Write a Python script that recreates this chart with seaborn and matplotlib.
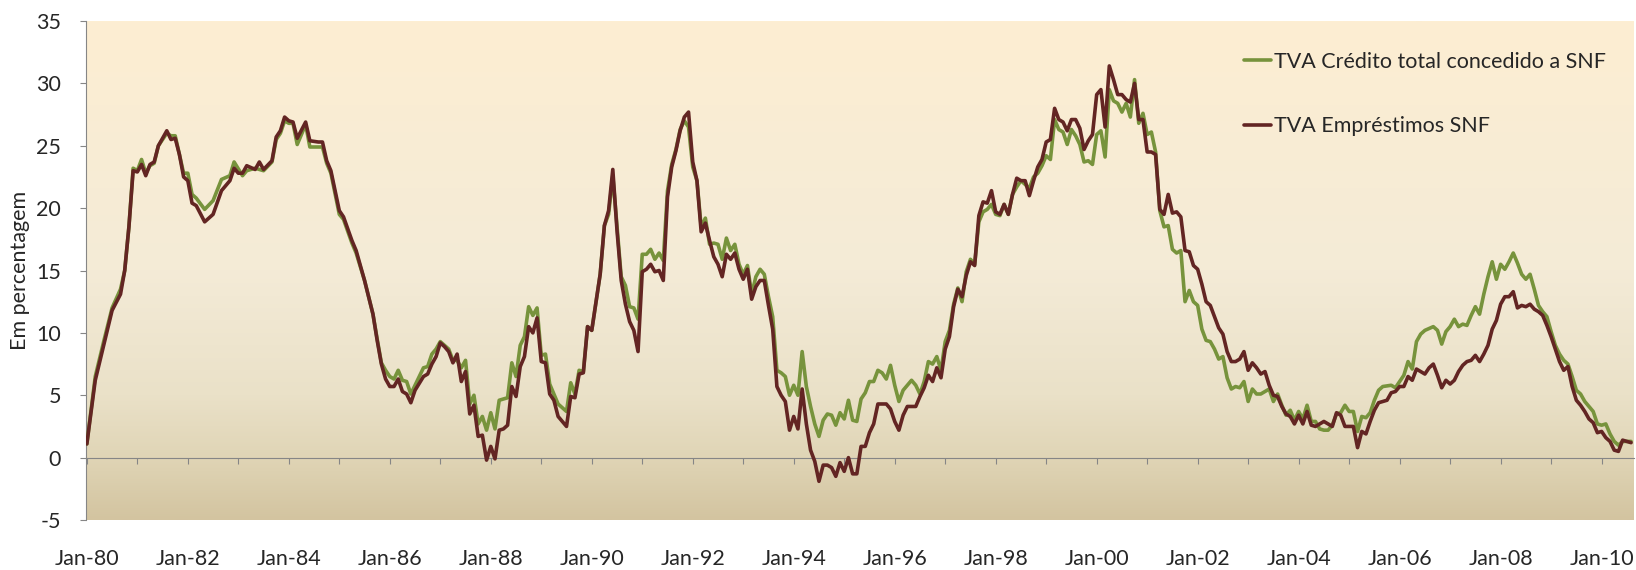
import numpy as np
import pandas as pd
import seaborn as sns
import matplotlib.pyplot as plt
from matplotlib.colors import LinearSegmentedColormap

# (meses desde Jan-80, valor em %)
credito_total = [
    (0, 1.1), (2, 6.5), (4, 9.3), (6, 12.0), (8, 13.5), (9, 15.0), (10, 18.5), (11, 23.2),
    (12, 23.0), (13, 23.9), (14, 22.8), (15, 23.4), (16, 23.6), (17, 25.0), (19, 26.0), (20, 25.8),
    (21, 25.8), (22, 24.3), (23, 22.8), (24, 22.8), (25, 21.1), (26, 20.8), (28, 19.9), (30, 20.6),
    (32, 22.3), (34, 22.6), (35, 23.7), (37, 22.6), (38, 23.0), (40, 23.2), (42, 23.0), (44, 23.7),
    (45, 25.5), (46, 26.0), (47, 27.0), (48, 26.8), (49, 26.8), (50, 25.1), (52, 26.7), (53, 24.9),
    (55, 24.9), (56, 24.9), (57, 23.6), (58, 22.8), (60, 19.5), (61, 19.1), (63, 17.2), (64, 16.4),
    (66, 14.2), (68, 11.5), (69, 9.5), (70, 7.6), (71, 7.0), (72, 6.5), (73, 6.3), (74, 7.0),
    (75, 6.2), (76, 6.1), (77, 5.1), (78, 5.8), (80, 7.2), (81, 7.3), (82, 8.3), (83, 8.7),
    (84, 9.3), (85, 9.0), (86, 8.7), (87, 7.8), (88, 7.8), (89, 7.2), (90, 7.8), (91, 4.3),
    (92, 5.0), (93, 2.7), (94, 3.3), (95, 2.2), (96, 3.6), (97, 2.3), (98, 4.6), (100, 4.8),
    (101, 7.6), (102, 6.5), (103, 9.0), (104, 9.7), (105, 12.1), (106, 11.4), (107, 12.0), (108, 8.2),
    (109, 8.3), (110, 5.9), (111, 5.1), (112, 4.3), (114, 3.7), (115, 6.0), (116, 5.1), (117, 7.0),
    (118, 6.9), (119, 10.5), (120, 10.2), (122, 14.7), (123, 18.6), (124, 19.5), (125, 22.6), (126, 18.5),
    (127, 14.5), (128, 13.8), (129, 12.1), (130, 12.0), (131, 11.1), (132, 16.3), (133, 16.3), (134, 16.7),
    (135, 15.9), (136, 16.4), (137, 15.8), (138, 21.4), (139, 23.5), (140, 24.7), (141, 26.3), (142, 27.0),
    (143, 26.5), (144, 23.3), (145, 22.2), (146, 18.5), (147, 19.2), (148, 17.1), (149, 17.2), (150, 17.1),
    (151, 15.9), (152, 17.6), (153, 16.6), (154, 17.1), (155, 15.5), (156, 14.7), (157, 15.4), (158, 13.1),
    (159, 14.5), (160, 15.1), (161, 14.7), (162, 12.9), (163, 11.3), (164, 7.0), (165, 6.8), (166, 6.5),
    (167, 5.0), (168, 5.8), (169, 5.0), (170, 8.5), (171, 5.7), (172, 4.1), (173, 2.7), (174, 1.7),
    (175, 3.0), (176, 3.5), (177, 3.4), (178, 2.6), (179, 3.6), (180, 3.1), (181, 4.6), (182, 3.0),
    (183, 2.9), (184, 4.7), (185, 5.2), (186, 6.1), (187, 6.1), (188, 7.0), (189, 6.8), (190, 6.3),
    (191, 7.4), (192, 5.8), (193, 4.5), (194, 5.4), (196, 6.2), (197, 5.8), (198, 5.1), (199, 6.1),
    (200, 7.7), (201, 7.5), (202, 8.1), (203, 7.0), (204, 9.3), (205, 10.2), (206, 12.3), (207, 13.6),
    (208, 12.5), (209, 14.9), (210, 15.9), (211, 15.5), (212, 18.9), (213, 19.7), (214, 19.9), (215, 20.3),
    (216, 19.5), (217, 19.4), (218, 20.3), (219, 19.5), (220, 21.1), (221, 21.7), (222, 22.2), (223, 21.9),
    (224, 21.6), (225, 22.5), (226, 22.8), (227, 23.4), (228, 24.2), (229, 23.9), (230, 27.1), (231, 26.3),
    (232, 26.1), (233, 25.1), (234, 26.3), (235, 25.8), (236, 25.1), (237, 23.7), (238, 23.8), (239, 23.5),
    (240, 25.9), (241, 26.2), (242, 24.1), (243, 29.5), (244, 28.6), (245, 28.4), (246, 27.7), (247, 28.4),
    (248, 27.3), (249, 30.3), (250, 26.8), (251, 27.6), (252, 25.9), (253, 26.1), (254, 24.5), (255, 19.8),
    (256, 18.5), (257, 18.6), (258, 16.7), (259, 16.4), (260, 16.6), (261, 12.5), (262, 13.4), (263, 12.5),
    (264, 12.2), (265, 10.3), (266, 9.4), (267, 9.3), (268, 8.7), (269, 7.9), (270, 8.1), (271, 6.4),
    (272, 5.5), (273, 5.7), (274, 5.6), (275, 6.1), (276, 4.5), (277, 5.5), (278, 5.1), (279, 5.1),
    (280, 5.3), (281, 5.5), (282, 4.5), (283, 5.1), (284, 4.2), (285, 3.4), (286, 3.8), (287, 3.0),
    (288, 3.7), (289, 3.1), (290, 4.2), (291, 2.9), (292, 2.9), (293, 2.3), (294, 2.2), (295, 2.2),
    (296, 2.6), (297, 3.5), (298, 3.6), (299, 4.2), (300, 3.7), (301, 3.7), (302, 2.1), (303, 3.3),
    (304, 3.2), (305, 3.6), (306, 4.6), (307, 5.4), (308, 5.7), (310, 5.8), (311, 5.6), (312, 6.1),
    (313, 6.6), (314, 7.7), (315, 7.1), (316, 9.3), (317, 9.9), (318, 10.2), (320, 10.5), (321, 10.2),
    (322, 9.1), (323, 10.1), (324, 10.5), (325, 11.1), (326, 10.5), (327, 10.7), (328, 10.6), (329, 11.4),
    (330, 12.1), (331, 11.5), (332, 13.1), (333, 14.5), (334, 15.7), (335, 14.3), (336, 15.5), (337, 15.1),
    (338, 15.7), (339, 16.4), (340, 15.6), (341, 14.7), (342, 14.3), (343, 14.7), (344, 13.5), (345, 12.2),
    (346, 11.7), (347, 11.3), (348, 10.1), (349, 9.0), (350, 8.3), (351, 7.8), (352, 7.5), (353, 6.5),
    (354, 5.4), (355, 5.1), (356, 4.5), (357, 4.1), (358, 3.7), (359, 2.7), (360, 2.6), (361, 2.7),
    (362, 1.9), (363, 1.3), (364, 1.0), (365, 1.3), (366, 1.3), (367, 1.3),
]

emprestimos = [
    (0, 1.1), (2, 6.2), (4, 9.0), (6, 11.8), (8, 13.1), (9, 15.0), (10, 18.5), (11, 23.0),
    (12, 22.9), (13, 23.5), (14, 22.6), (15, 23.5), (16, 23.7), (17, 25.0), (19, 26.2), (20, 25.5),
    (21, 25.6), (22, 24.3), (23, 22.5), (24, 22.2), (25, 20.4), (26, 20.2), (28, 18.9), (30, 19.5),
    (32, 21.4), (34, 22.2), (35, 23.2), (36, 22.8), (37, 22.8), (38, 23.4), (40, 23.1), (41, 23.7),
    (42, 23.1), (44, 23.8), (45, 25.7), (46, 26.2), (47, 27.3), (48, 27.0), (49, 26.9), (50, 25.6),
    (52, 26.9), (53, 25.4), (55, 25.3), (56, 25.3), (57, 23.8), (58, 23.0), (60, 19.8), (61, 19.3),
    (63, 17.4), (64, 16.6), (66, 14.2), (68, 11.5), (69, 9.4), (70, 7.5), (71, 6.3), (72, 5.7),
    (73, 5.7), (74, 6.3), (75, 5.3), (76, 5.1), (77, 4.4), (78, 5.4), (80, 6.5), (81, 6.7),
    (82, 7.5), (83, 8.1), (84, 9.2), (85, 8.9), (86, 8.5), (87, 7.6), (88, 8.3), (89, 6.1),
    (90, 6.9), (91, 3.5), (92, 4.2), (93, 1.7), (94, 1.8), (95, -0.2), (96, 0.9), (97, -0.1),
    (98, 2.2), (99, 2.3), (100, 2.6), (101, 5.7), (102, 4.9), (103, 7.3), (104, 8.1), (105, 10.5),
    (106, 10.0), (107, 11.2), (108, 7.7), (109, 7.6), (110, 5.1), (111, 4.6), (112, 3.3), (114, 2.5),
    (115, 4.9), (116, 4.8), (117, 6.7), (118, 6.8), (119, 10.5), (120, 10.2), (122, 14.7), (123, 18.6),
    (124, 19.8), (125, 23.1), (126, 18.2), (127, 14.2), (128, 12.3), (129, 10.9), (130, 10.2), (131, 8.5),
    (132, 14.9), (133, 15.1), (134, 15.5), (135, 14.9), (136, 15.0), (137, 14.2), (138, 20.9), (139, 23.3),
    (140, 24.6), (141, 26.2), (142, 27.3), (143, 27.7), (144, 23.7), (145, 22.2), (146, 18.1), (147, 18.8),
    (148, 17.4), (149, 16.1), (150, 15.5), (151, 14.5), (152, 16.3), (153, 15.9), (154, 16.4), (155, 15.1),
    (156, 14.3), (157, 15.1), (158, 12.7), (159, 13.7), (160, 14.2), (161, 14.2), (162, 12.2), (163, 10.3),
    (164, 5.7), (165, 5.0), (166, 4.5), (167, 2.2), (168, 3.3), (169, 2.3), (170, 5.5), (171, 2.7),
    (172, 0.6), (173, -0.3), (174, -1.9), (175, -0.6), (176, -0.6), (177, -0.8), (178, -1.5), (179, -0.4),
    (180, -1.1), (181, 0.0), (182, -1.3), (183, -1.3), (184, 0.9), (185, 0.9), (186, 2.0), (187, 2.7),
    (188, 4.3), (190, 4.3), (191, 3.9), (192, 2.9), (193, 2.2), (194, 3.4), (195, 4.1), (197, 4.1),
    (198, 4.9), (199, 5.6), (200, 6.6), (201, 6.1), (202, 7.2), (203, 6.4), (204, 8.7), (205, 9.7),
    (206, 12.1), (207, 13.5), (208, 12.9), (209, 14.6), (210, 15.7), (211, 15.4), (212, 19.4), (213, 20.5),
    (214, 20.4), (215, 21.4), (216, 19.7), (217, 19.5), (218, 20.3), (219, 19.5), (220, 21.1), (221, 22.4),
    (222, 22.2), (223, 22.2), (224, 21.0), (225, 22.2), (226, 23.3), (227, 23.9), (228, 25.3), (229, 25.5),
    (230, 28.0), (231, 27.1), (232, 26.9), (233, 26.2), (234, 27.1), (235, 27.1), (236, 26.4), (237, 24.7),
    (238, 25.4), (239, 25.9), (240, 29.1), (241, 29.5), (242, 26.5), (243, 31.4), (244, 30.3), (245, 29.1),
    (246, 29.1), (247, 28.7), (248, 28.5), (249, 30.0), (250, 27.1), (251, 27.1), (252, 24.5), (253, 24.5),
    (254, 24.3), (255, 19.9), (256, 19.5), (257, 21.1), (258, 19.6), (259, 19.7), (260, 19.3), (261, 16.6),
    (262, 16.5), (263, 15.4), (264, 15.1), (265, 13.9), (266, 12.5), (267, 12.2), (268, 11.3), (269, 10.4),
    (270, 9.9), (271, 8.5), (272, 7.7), (273, 7.7), (274, 7.9), (275, 8.5), (276, 7.0), (277, 7.6),
    (278, 7.2), (279, 6.7), (280, 6.9), (281, 5.8), (282, 5.0), (283, 4.9), (284, 4.1), (285, 3.5),
    (286, 3.3), (287, 2.7), (288, 3.4), (289, 2.7), (290, 3.7), (291, 2.6), (292, 2.5), (294, 2.9),
    (296, 2.5), (297, 3.6), (298, 3.4), (299, 2.5), (300, 2.5), (301, 2.5), (302, 0.8), (303, 2.1),
    (304, 1.9), (305, 2.9), (306, 3.8), (307, 4.4), (309, 4.6), (310, 5.2), (311, 5.3), (312, 5.7),
    (313, 5.7), (314, 6.5), (315, 6.2), (316, 7.1), (318, 6.7), (319, 7.2), (320, 7.5), (321, 6.6),
    (322, 5.6), (323, 6.2), (324, 5.9), (325, 6.2), (326, 6.9), (327, 7.4), (328, 7.7), (329, 7.8),
    (330, 8.2), (331, 7.7), (332, 8.3), (333, 9.0), (334, 10.3), (335, 11.0), (336, 12.3), (337, 12.9),
    (338, 12.9), (339, 13.3), (340, 12.0), (341, 12.2), (342, 12.1), (343, 12.3), (344, 11.9), (345, 11.7),
    (346, 11.4), (347, 10.6), (348, 9.7), (349, 8.7), (350, 7.7), (351, 7.0), (352, 7.3), (353, 5.7),
    (354, 4.6), (355, 4.2), (356, 3.7), (357, 3.1), (358, 2.8), (359, 2.0), (360, 2.1), (361, 1.6),
    (362, 1.3), (363, 0.6), (364, 0.5), (365, 1.4), (366, 1.3), (367, 1.2),
]

series_nomes = ["TVA Crédito total concedido a SNF", "TVA Empréstimos SNF"]
cores = ["#77933C", "#632523"]
rotulos_x = ["Jan-80", "Jan-82", "Jan-84", "Jan-86", "Jan-88", "Jan-90", "Jan-92", "Jan-94",
             "Jan-96", "Jan-98", "Jan-00", "Jan-02", "Jan-04", "Jan-06", "Jan-08", "Jan-10"]

frames = []
for nome, pares in zip(series_nomes, [credito_total, emprestimos]):
    d = pd.DataFrame(pares, columns=["mes", "valor"])
    d["serie"] = nome
    frames.append(d)
df = pd.concat(frames, ignore_index=True)

sns.set_style("white")
plt.rcParams["font.family"] = ["Lato", "DejaVu Sans"]
plt.rcParams["axes.unicode_minus"] = False
fs = 15.5

fig = plt.figure(figsize=(16.36, 5.70), dpi=100)
ax = fig.add_axes([86 / 1636, 50 / 570, 1548 / 1636, 499 / 570])

xmin, xmax = -0.2, 367.7

# fundo em degradê (bege claro em cima, castanho claro em baixo)
fundo = LinearSegmentedColormap.from_list(
    "fundo", [(0.0, "#D3C4A0"), (0.125, "#E0D5B6"), (0.25, "#EAE1C8"),
              (0.5, "#F4EBD7"), (1.0, "#FDEED2")])
grad = np.linspace(0, 1, 256).reshape(-1, 1)
ax.imshow(grad, aspect="auto", cmap=fundo, origin="lower",
          extent=[xmin, xmax, -5, 35], zorder=0)

sns.lineplot(data=df, x="mes", y="valor", hue="serie",
             palette=dict(zip(series_nomes, cores)),
             linewidth=2.6, estimator=None, ax=ax, zorder=3)

ax.set_xlim(xmin, xmax)
ax.set_ylim(-5, 35)

sns.despine(ax=ax, top=True, right=True)
ax.spines["left"].set_color("#868686")
ax.spines["bottom"].set_position(("data", 0))
ax.spines["bottom"].set_color("#868686")

ax.set_xticks(range(0, 361, 12))
ax.set_xticklabels([])
ax.tick_params(axis="x", bottom=True, direction="out", length=4, color="#868686")
ax.set_yticks(range(-5, 36, 5))
ax.tick_params(axis="y", left=True, direction="out", length=4, color="#868686",
               labelsize=fs, pad=14)

sec = ax.secondary_xaxis("bottom")
sec.set_xticks(range(0, 361, 24), labels=rotulos_x)
sec.tick_params(length=0, pad=21, labelsize=fs)
sec.spines["bottom"].set_visible(False)

ax.set_xlabel("")
ax.set_ylabel("Em percentagem", fontsize=fs)
ax.yaxis.set_label_coords(-0.036, 0.5)

handles, labels = ax.get_legend_handles_labels()
ax.legend(handles, labels, loc="upper left", bbox_to_anchor=(1244 / 1636, 1 - 52 / 570),
          bbox_transform=fig.transFigure, frameon=False, fontsize=fs,
          handlelength=1.25, handletextpad=0.15, labelspacing=2.05,
          borderpad=0, borderaxespad=0)

fig.savefig("out.png", dpi=100)
